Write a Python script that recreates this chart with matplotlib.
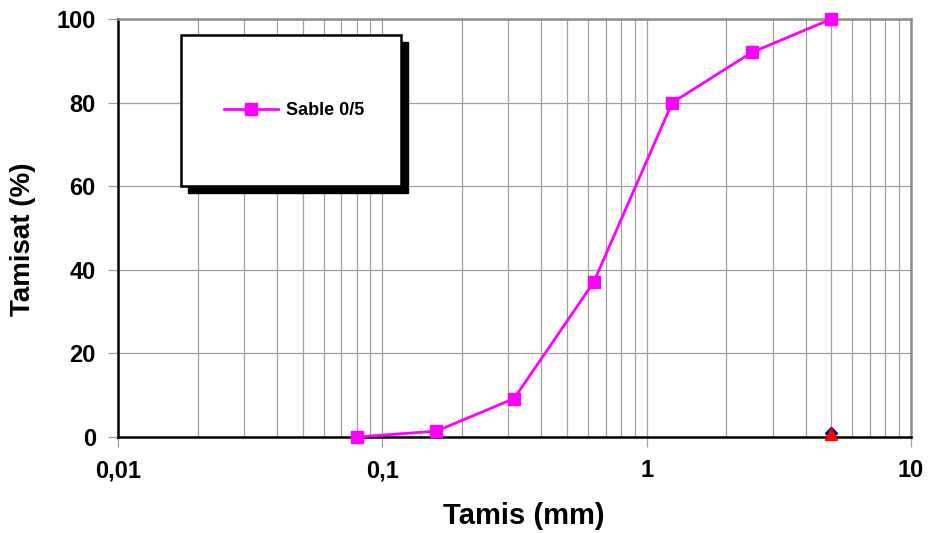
import numpy as np
import matplotlib
matplotlib.use('Agg')
from matplotlib import pyplot as plt
from matplotlib.ticker import FixedLocator, FixedFormatter, LogLocator, NullFormatter
from matplotlib.patches import Rectangle

plt.rcParams.update({'font.family': ['Liberation Sans', 'DejaVu Sans'],
                     'font.weight': 'bold'})

# sieve sizes (mm) and passing (%)
tamis = [0.08, 0.16, 0.315, 0.63, 1.25, 2.5, 5]
tamisat = [0, 1.4, 9.2, 37, 80, 92, 100]
# extra marks at 5 mm
point_x = [5]
point_diamond = [1.0]
point_triangle = [0.7]

xticks = [0.01, 0.1, 1, 10]
xlabels = ['0,01', '0,1', '1', '10']
yticks = [0, 20, 40, 60, 80, 100]

fig = plt.figure(figsize=(9.31, 5.33), dpi=100)
ax = fig.add_axes([0.1268, 0.1801, 0.8517, 0.7843])

ax.set_xscale('log')
ax.set_xlim(0.01, 10)
ax.set_ylim(0, 100)

ax.xaxis.set_major_locator(FixedLocator(xticks))
ax.xaxis.set_major_formatter(FixedFormatter(xlabels))
ax.xaxis.set_minor_locator(LogLocator(base=10, subs=np.arange(2, 10)))
ax.xaxis.set_minor_formatter(NullFormatter())
ax.set_yticks(yticks)

ax.grid(True, which='both', axis='x', color='#a0a0a0', lw=0.9)
ax.grid(True, which='major', axis='y', color='#a0a0a0', lw=0.9)
ax.set_axisbelow(True)

ax.tick_params(axis='both', which='major', labelsize=17, color='#a0a0a0',
               length=7, width=0.9, direction='out', pad=9)
ax.tick_params(axis='x', which='minor', length=0)
for lab in ax.get_xticklabels() + ax.get_yticklabels():
    lab.set_fontweight('bold')

for s in ['left', 'bottom']:
    ax.spines[s].set_color('black')
    ax.spines[s].set_linewidth(1.8)
for s in ['top', 'right']:
    ax.spines[s].set_color('#8c8c8c')
    ax.spines[s].set_linewidth(1.8)

ax.plot(tamis, tamisat, '-s', color='#ff00ff', lw=2, ms=8, label='Sable 0/5',
        clip_on=False, zorder=5)
ax.plot(point_x, point_diamond, 'D', color='#000080', ms=6, clip_on=False, zorder=6)
ax.plot(point_x, point_triangle, '^', color='red', ms=8, clip_on=False, zorder=7)

# legend box with a solid shadow, as in the original sheet
bx, by, bw, bh = 0.0794, 0.600, 0.277, 0.362
ax.add_patch(Rectangle((bx + 0.009, by - 0.017), bw, bh, transform=ax.transAxes,
                       facecolor='black', edgecolor='black', zorder=8, clip_on=False))
ax.add_patch(Rectangle((bx, by), bw, bh, transform=ax.transAxes,
                       facecolor='white', edgecolor='black', lw=1.8, zorder=9,
                       clip_on=False))
leg = ax.legend(handles=ax.lines[:1], loc='center',
                bbox_to_anchor=(bx + bw / 2 + 0.004, by + bh / 2), frameon=False,
                prop={'size': 13, 'weight': 'bold'}, handlelength=3,
                handletextpad=0.4)
leg.set_zorder(10)

ax.set_xlabel('Tamis (mm)', fontsize=21, fontweight='bold')
ax.set_ylabel('Tamisat (%)', fontsize=20, fontweight='bold')
ax.xaxis.set_label_coords(0.512, -0.155)
ax.yaxis.set_label_coords(-0.104, 0.474)

plt.savefig('out.png', dpi=100)
